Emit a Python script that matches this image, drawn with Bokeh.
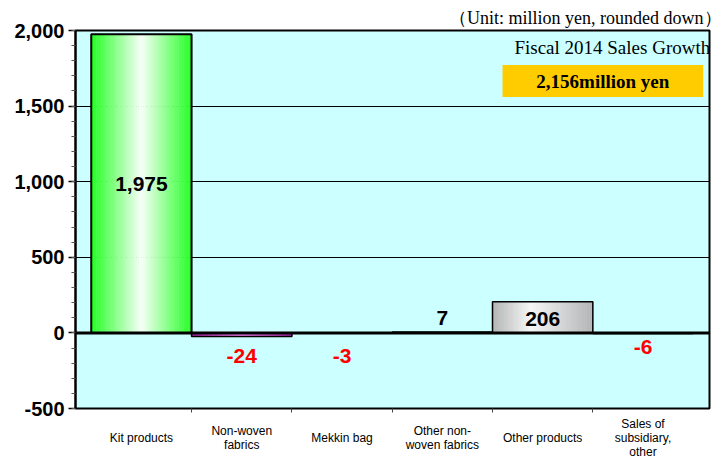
import numpy as np
from bokeh.plotting import figure
from bokeh.layouts import column
from bokeh.models import (Range1d, FixedTicker, NumeralTickFormatter, Span,
                          Title, LinearAxis)
from bokeh.core.properties import value
from bokeh.embed import file_html
from bokeh.resources import INLINE

# ---- data -------------------------------------------------------------
categories = ["Kit products", "Non-woven\nfabrics", "Mekkin bag",
              "Other non-\nwoven fabrics", "Other products",
              "Sales of\nsubsidiary,\nother"]
values = [1975, -24, -3, 7, 206, -6]
value_labels = ["1,975", "-24", "-3", "7", "206", "-6"]
y_ticks = [-500, 0, 500, 1000, 1500, 2000]
unit_note = "（Unit: million yen, rounded down）"
total_title = "Fiscal 2014 Sales Growth"
total_value = "2,156million yen"

# ---- styles -----------------------------------------------------------
# (edge colour, highlight colour, highlight position across the bar)
bar_gradients = [("#22ff22", "#f8fff8", 0.5),
                 ("#b020b0", "#ff88ff", 0.5),
                 ("#6699ff", "#eef4ff", 0.5),
                 ("#808000", "#ffff99", 0.5),
                 ("#b4b4b4", "#f6f6f6", 0.38),
                 ("#ff9933", "#fff0e0", 0.5)]
label_y = [987, -150, -150, 99, 95, -95]
label_colors = ["black", "red", "red", "black", "black", "red"]

W = 721
X_RANGE = Range1d(-0.157, 6.163)
BORDER_L, BORDER_R = 75, 12
MAIN_H, FOOT_H = 418, 39


def hex_rgb(h):
    h = h.lstrip("#")
    return np.array([int(h[i:i + 2], 16) for i in (0, 2, 4)], dtype=float)


def rgb_hex(c):
    c = np.clip(np.round(c), 0, 255).astype(int)
    return "#%02x%02x%02x" % tuple(c)


# ---- main plot ----------------------------------------------------------
p = figure(width=W, height=MAIN_H, output_backend="svg", toolbar_location=None,
           x_range=X_RANGE, y_range=Range1d(-500, 2000),
           min_border_left=BORDER_L, min_border_right=BORDER_R,
           min_border_top=30, min_border_bottom=10, x_axis_type=None)
p.background_fill_color = "#ccffff"
p.border_fill_color = "white"
p.outline_line_color = "black"
p.outline_line_width = 2

p.add_layout(Title(text=unit_note, align="right", text_font="Liberation Serif",
                   text_font_size="18px", text_font_style="normal",
                   text_color="black", offset=-12, standoff=5), "above")

p.yaxis.ticker = FixedTicker(ticks=y_ticks,
                             minor_ticks=list(range(-500, 2001, 100)))
p.yaxis.formatter = NumeralTickFormatter(format="0,0")
p.yaxis.major_label_text_font = "Liberation Sans"
p.yaxis.major_label_text_font_style = "bold"
p.yaxis.major_label_text_font_size = "20px"
p.yaxis.major_label_text_color = "black"
p.yaxis.major_label_standoff = 4
p.yaxis.major_tick_out = 7
p.yaxis.major_tick_in = 0
p.yaxis.minor_tick_out = 4
p.yaxis.minor_tick_in = 0
p.yaxis.axis_line_width = 2
p.yaxis.major_tick_line_width = 1.5
p.yaxis.minor_tick_line_color = "#555555"

# x axis: ticks at the category boundaries, names drawn in the footer
bounds = list(range(1, len(categories)))
xaxis = LinearAxis(ticker=FixedTicker(ticks=bounds),
                   major_label_overrides={b: "" for b in bounds},
                   major_label_text_font_size="1px", major_label_standoff=0,
                   major_tick_out=4, major_tick_in=0, axis_line_color=None,
                   major_tick_line_color="#444444")
p.add_layout(xaxis, "below")

p.xgrid.grid_line_color = None
p.ygrid.ticker = FixedTicker(ticks=y_ticks)
p.ygrid.grid_line_color = "black"
p.ygrid.grid_line_width = 1

# bars, each filled with a horizontal gradient made of thin strips
n_strips = 60
for i, (v, (edge, hi, pk)) in enumerate(zip(values, bar_gradients)):
    e = np.linspace(i, i + 1, n_strips + 1)
    mid = (e[:-1] + e[1:]) / 2 - i
    d = np.abs(mid - pk) / np.where(mid < pk, pk, 1 - pk)
    w = np.clip(1 - d, 0, 1)[:, None]
    cols = [rgb_hex(c) for c in (hex_rgb(hi) * w + hex_rgb(edge) * (1 - w))]
    p.quad(left=e[:-1], right=e[1:] + 0.004, bottom=0, top=v,
           fill_color=cols, line_color=None)

idx = np.arange(len(values))
p.quad(left=idx, right=idx + 1, bottom=0, top=values, fill_alpha=0,
       line_color="black", line_width=[2, 1.5, 1, 1, 1.5, 1])

p.add_layout(Span(location=0, dimension="width", line_color="black",
                  line_width=3))

# value labels
p.text(x=idx + 0.5, y=label_y, text=value_labels, text_color=label_colors,
       text_font=value("Liberation Sans"), text_font_style="bold",
       text_font_size="21px", text_align="center", text_baseline="middle")

# total box
p.quad(left=[4.1], right=[6.1], bottom=[1561], top=[1772],
       fill_color="#ffcc00", line_color=None)
p.text(x=[5.1], y=[1666], text=[total_value], text_font=value("Liberation Serif"),
       text_font_style="bold", text_font_size="19px", text_align="center",
       text_baseline="middle", text_color="black")
p.text(x=[6.17], y=[1885], text=[total_title], text_font=value("Liberation Serif"),
       text_font_size="19px", text_align="right", text_baseline="middle",
       text_color="black")

# ---- footer: category names ----------------------------------------------
foot = figure(width=W, height=FOOT_H, output_backend="svg",
              toolbar_location=None, x_range=X_RANGE,
              y_range=Range1d(FOOT_H, 0), x_axis_type=None, y_axis_type=None,
              min_border_left=BORDER_L, min_border_right=BORDER_R,
              min_border_top=0, min_border_bottom=0)
foot.outline_line_color = None
foot.background_fill_color = "white"
foot.border_fill_color = "white"
foot.grid.grid_line_color = None
foot.text(x=idx + 0.5, y=[19] * len(categories), text=categories,
          text_font=value("Liberation Sans"), text_font_size="12px",
          text_align="center", text_baseline="middle", text_line_height=1.0,
          text_color="black")

layout = column(p, foot, spacing=0)
open("out.html", "w").write(file_html(layout, INLINE))
